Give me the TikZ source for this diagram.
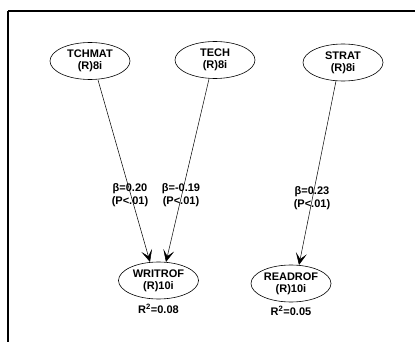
\documentclass[tikz,border=0pt]{standalone}
\usepackage{fontspec}
\setmainfont{Liberation Sans}
\usetikzlibrary{arrows.meta,shapes.geometric}
\tikzset{
  latent/.style={draw, ellipse, minimum width=80pt, minimum height=37pt, inner sep=0pt,
    font=\fontsize{11}{12}\selectfont\bfseries, align=center, line width=0.6pt},
  path/.style={draw, line width=0.5pt, -{Stealth[length=12pt,width=11pt,inset=6pt]}},
  coef/.style={font=\fontsize{11}{12.5}\selectfont\bfseries, align=center, inner sep=0pt},
  rsq/.style={font=\fontsize{11}{12}\selectfont\bfseries, inner sep=0pt}
}
\begin{document}
\begin{tikzpicture}[x=1pt,y=-1pt]
  \useasboundingbox (0,0) rectangle (415,342);
  \fill[white] (0,0) rectangle (415,342);
  % outer frame, running off the right and bottom edges
  \draw[line width=2pt] (8,11) -- (425,11);
  \draw[line width=2pt] (8,11) -- (8,350);

  % construct ellipses
  \node[latent] (tchmat) at (90,61) {TCHMAT\\(R)8i};
  \node[latent] (tech) at (215,60) {TECH\\(R)8i};
  \node[latent] (strat) at (343,62.5) {STRAT\\(R)8i};
  \node[latent] (writrof) at (158.5,280.5) {WRITROF\\(R)10i};
  \node[latent] (readrof) at (291,283.5) {READROF\\(R)10i};

  % explained variance
  \node[rsq] (r2w) at (158.5,309) {R\textsuperscript{2}=0.08};
  \node[rsq] (r2r) at (291,311) {R\textsuperscript{2}=0.05};

  % path end points on the ellipse borders
  \coordinate (a1) at (98,80);
  \coordinate (a2) at (209,79);
  \coordinate (a3) at (336,81);
  \coordinate (b1) at (150,262);
  \coordinate (b2) at (166,262);
  \coordinate (b3) at (299,265);

  % structural paths
  \draw[path] (a1) -- (b1);
  \draw[path] (a2) -- (b2);
  \draw[path] (a3) -- (b3);

  % path coefficients
  \node[coef] (c1) at (130,195) {β=0.20\\(P<.01)};
  \node[coef] (c2) at (181,195) {β=-0.19\\(P<.01)};
  \node[coef] (c3) at (312,198) {β=0.23\\(P<.01)};
\end{tikzpicture}
\end{document}
